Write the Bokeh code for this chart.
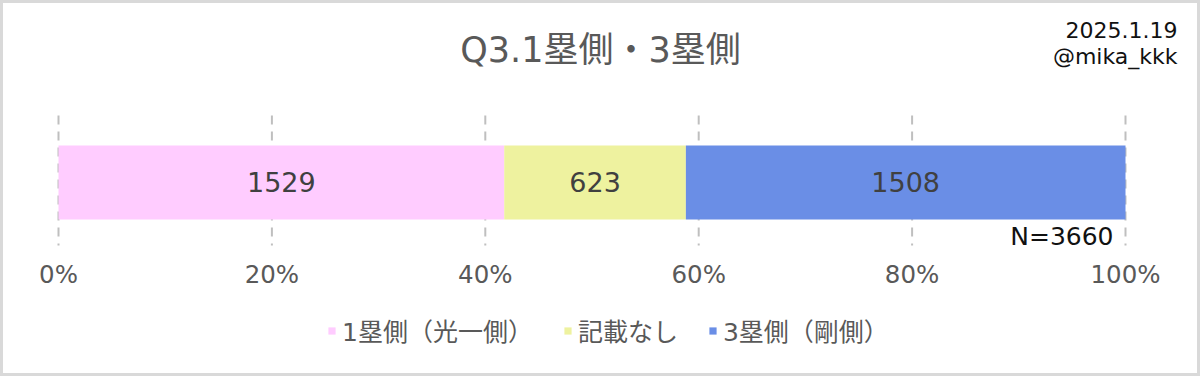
from bokeh.plotting import figure
from bokeh.models import Range1d, ColumnDataSource, Legend, LegendItem
from bokeh.core.properties import value
from bokeh.embed import file_html
from bokeh.resources import INLINE

# --- data -------------------------------------------------------------
categories = ["1塁側（光一側）", "記載なし", "3塁側（剛側）"]
counts = [1529, 623, 1508]
colors = ["#FFCCFF", "#EEF29F", "#6A8EE6"]
tick_values = [0, 20, 40, 60, 80, 100]
tick_labels = ["0%", "20%", "40%", "60%", "80%", "100%"]
title_text = "Q3.1塁側・3塁側"
date_text = "2025.1.19"
author_text = "@mika_kkk"

total = sum(counts)
# Latin glyphs from DejaVu Sans, Japanese falls back to Noto Sans CJK JP
FONT_NAME = "'DejaVu Sans', 'Noto Sans CJK JP'"
FONT = value(FONT_NAME)

# --- layout (canvas pixels) --------------------------------------------
W, H = 1200, 376
X0, X1 = 58, 1125          # where 0% and 100% sit
BAR_Y, BAR_H = 182, 74
GRID_TOP, GRID_BOTTOM = 115, 245


def px(x):
    """canvas pixel -> share of total (x data units)"""
    return (x - X0) / (X1 - X0)


p = figure(width=W, height=H, output_backend="svg", toolbar_location=None,
           x_range=Range1d(px(0), px(W)), y_range=Range1d(H, 0),
           min_border=0)
p.axis.visible = False
p.grid.visible = False
p.background_fill_color = "white"
p.border_fill_color = "white"
p.outline_line_color = "#d9d9d9"
p.outline_line_width = 5

# stacked shares
lefts, rights = [], []
acc = 0
for c in counts:
    lefts.append(acc / total)
    acc += c
    rights.append(acc / total)

src = ColumnDataSource(dict(
    cat=categories, count=counts, left=lefts, right=rights,
    mid=[(l + r) / 2 for l, r in zip(lefts, rights)],
    label=[str(c) for c in counts], color=colors,
    y=[BAR_Y] * len(counts),
))

# dashed vertical gridlines
gx = [t / 100 for t in tick_values]
p.segment(x0=gx, x1=gx, y0=[GRID_TOP] * len(gx), y1=[GRID_BOTTOM] * len(gx),
          line_color="#bfbfbf", line_width=2, line_dash="9 7")

bars = p.hbar(y="y", height=BAR_H, left="left", right="right",
              fill_color="color", line_color=None, source=src)

p.text(x="mid", y="y", text="label", source=src, text_align="center",
       text_baseline="middle", text_font=FONT, text_font_size="27px",
       text_color="#404040", y_offset=-1)

# percentage tick labels
p.text(x=gx, y=[274] * len(gx), text=tick_labels, text_align="center",
       text_baseline="middle", text_font=FONT, text_font_size="24.5px",
       text_color="#595959")

# sample size
p.text(x=[1.0], y=[236], text=[f"N={total}"], x_offset=-12,
       text_align="right", text_baseline="middle", text_font=FONT,
       text_font_size="25px", text_color="#111111")

# title
p.text(x=[px(600)], y=[49], text=[title_text], text_align="center",
       text_baseline="middle", text_font=FONT, text_font_size="35px",
       text_color="#595959")

# date / author
p.text(x=[px(1177), px(1177)], y=[29, 56], text=[date_text, author_text],
       text_align="right", text_baseline="middle", text_font=FONT,
       text_font_size="22px", text_color="#111111")

legend = Legend(
    items=[LegendItem(label=c, renderers=[bars], index=i)
           for i, c in enumerate(categories)],
    orientation="horizontal", location=(327, 28),
    glyph_width=9, glyph_height=9, label_standoff=6, spacing=30,
    padding=0, margin=0, border_line_color=None, background_fill_alpha=0,
    label_text_font=FONT_NAME, label_text_font_size="25px",
    label_text_color="#595959",
)
p.add_layout(legend, "center")

open("out.html", "w").write(file_html(p, INLINE))
